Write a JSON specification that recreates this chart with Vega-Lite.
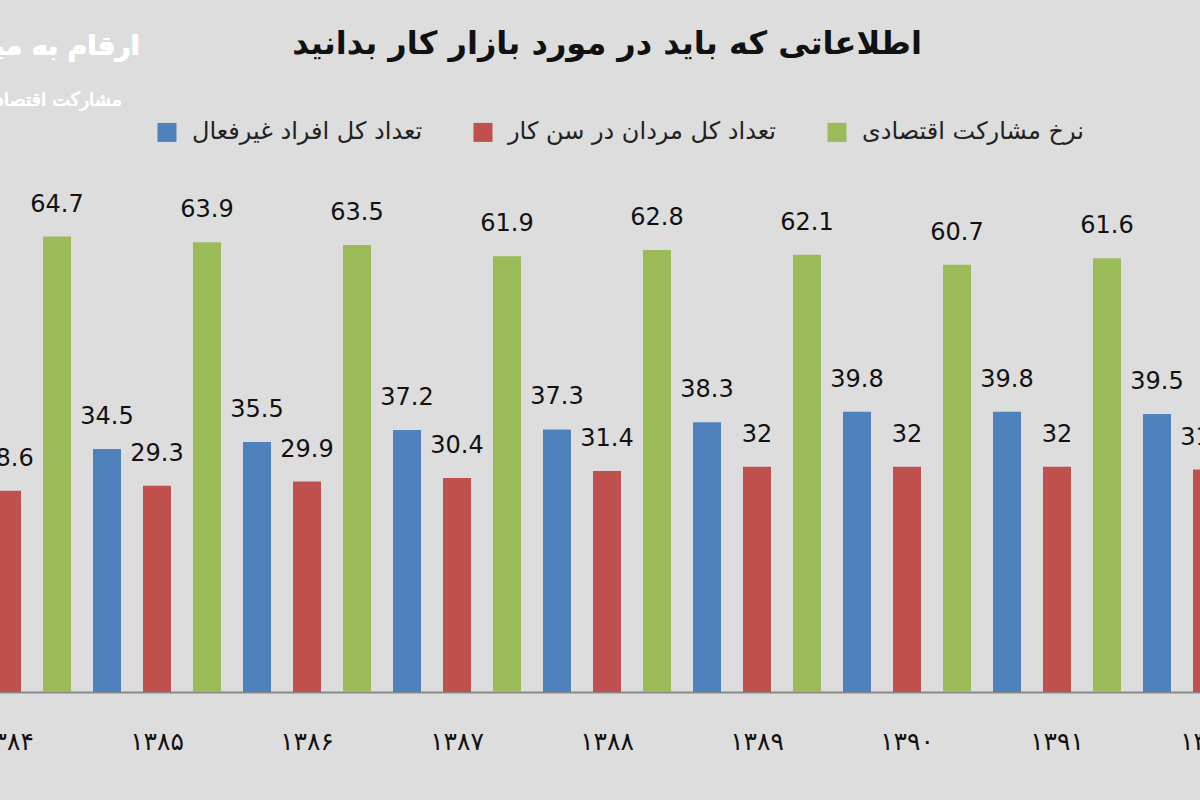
{
  "$schema": "https://vega.github.io/schema/vega-lite/v6.json",
  "autosize": "none",
  "width": 1350,
  "height": 633.6,
  "padding": {"left": -68, "right": -82, "top": 58.4, "bottom": 108},
  "background": "#dddddd",
  "config": {"view": {"stroke": null}, "font": "DejaVu Sans"},
  "title": {
    "text": "اطلاعاتی که باید در مورد بازار کار بدانید",
    "fontSize": 32,
    "fontWeight": "bold",
    "color": "#111111",
    "anchor": "middle",
    "frame": "group",
    "offset": -28
  },
  "data": {
    "values": [
      {"year": "۱۳۸۴", "series": "تعداد کل مردان در سن کار", "value": 28.6},
      {"year": "۱۳۸۴", "series": "نرخ مشارکت اقتصادی", "value": 64.7},
      {"year": "۱۳۸۵", "series": "تعداد کل افراد غیرفعال", "value": 34.5},
      {"year": "۱۳۸۵", "series": "تعداد کل مردان در سن کار", "value": 29.3},
      {"year": "۱۳۸۵", "series": "نرخ مشارکت اقتصادی", "value": 63.9},
      {"year": "۱۳۸۶", "series": "تعداد کل افراد غیرفعال", "value": 35.5},
      {"year": "۱۳۸۶", "series": "تعداد کل مردان در سن کار", "value": 29.9},
      {"year": "۱۳۸۶", "series": "نرخ مشارکت اقتصادی", "value": 63.5},
      {"year": "۱۳۸۷", "series": "تعداد کل افراد غیرفعال", "value": 37.2},
      {"year": "۱۳۸۷", "series": "تعداد کل مردان در سن کار", "value": 30.4},
      {"year": "۱۳۸۷", "series": "نرخ مشارکت اقتصادی", "value": 61.9},
      {"year": "۱۳۸۸", "series": "تعداد کل افراد غیرفعال", "value": 37.3},
      {"year": "۱۳۸۸", "series": "تعداد کل مردان در سن کار", "value": 31.4},
      {"year": "۱۳۸۸", "series": "نرخ مشارکت اقتصادی", "value": 62.8},
      {"year": "۱۳۸۹", "series": "تعداد کل افراد غیرفعال", "value": 38.3},
      {"year": "۱۳۸۹", "series": "تعداد کل مردان در سن کار", "value": 32},
      {"year": "۱۳۸۹", "series": "نرخ مشارکت اقتصادی", "value": 62.1},
      {"year": "۱۳۹۰", "series": "تعداد کل افراد غیرفعال", "value": 39.8},
      {"year": "۱۳۹۰", "series": "تعداد کل مردان در سن کار", "value": 32},
      {"year": "۱۳۹۰", "series": "نرخ مشارکت اقتصادی", "value": 60.7},
      {"year": "۱۳۹۱", "series": "تعداد کل افراد غیرفعال", "value": 39.8},
      {"year": "۱۳۹۱", "series": "تعداد کل مردان در سن کار", "value": 32},
      {"year": "۱۳۹۱", "series": "نرخ مشارکت اقتصادی", "value": 61.6},
      {"year": "۱۳۹۲", "series": "تعداد کل افراد غیرفعال", "value": 39.5},
      {"year": "۱۳۹۲", "series": "تعداد کل مردان در سن کار", "value": 31.6}
    ]
  },
  "encoding": {
    "x": {
      "field": "year",
      "type": "nominal",
      "scale": {
        "domain": ["۱۳۸۴", "۱۳۸۵", "۱۳۸۶", "۱۳۸۷", "۱۳۸۸", "۱۳۸۹", "۱۳۹۰", "۱۳۹۱", "۱۳۹۲"],
        "paddingInner": 0,
        "paddingOuter": 0
      },
      "axis": {
        "title": null,
        "labelAngle": 0,
        "labelFontSize": 25,
        "labelColor": "#111111",
        "labelPadding": 37,
        "ticks": false,
        "grid": false,
        "domainColor": "#8a8a8a",
        "domainWidth": 2
      }
    },
    "xOffset": {
      "field": "series",
      "type": "nominal",
      "scale": {
        "domain": ["تعداد کل افراد غیرفعال", "تعداد کل مردان در سن کار", "نرخ مشارکت اقتصادی"],
        "paddingInner": 0.44,
        "paddingOuter": 0.22
      }
    },
    "y": {
      "field": "value",
      "type": "quantitative",
      "scale": {"domain": [0, 90]},
      "axis": null
    }
  },
  "layer": [
    {
      "mark": {"type": "bar"},
      "encoding": {
        "color": {
          "field": "series",
          "type": "nominal",
          "scale": {
            "domain": ["تعداد کل افراد غیرفعال", "تعداد کل مردان در سن کار", "نرخ مشارکت اقتصادی"],
            "range": ["#4f81bd", "#c0504d", "#9bbb59"]
          },
          "legend": {
            "orient": "none",
            "legendX": 223,
            "legendY": 62,
            "direction": "horizontal",
            "title": null,
            "symbolType": "square",
            "symbolSize": 361,
            "symbolStrokeWidth": 0,
            "labelFontSize": 24,
            "labelColor": "#222222",
            "labelLimit": 400,
            "labelOffset": 13,
            "columnPadding": 48
          }
        }
      }
    },
    {
      "mark": {"type": "text", "fontSize": 24, "color": "#111111", "baseline": "alphabetic", "dy": -25},
      "encoding": {"text": {"field": "value", "type": "quantitative"}}
    },
    {
      "mark": {"type": "text", "text": "ارقام به میلیون نفر", "fontSize": 27, "fontWeight": "bold", "color": "#ffffff", "align": "right", "baseline": "middle", "dx": 208},
      "encoding": {"x": {"datum": "۱۳۸۴"}, "y": {"datum": 91.6}, "xOffset": {"value": 0}}
    },
    {
      "mark": {"type": "text", "text": "مشارکت اقتصادی به درصد", "fontSize": 19, "color": "#ffffff", "align": "right", "baseline": "middle", "dx": 190},
      "encoding": {"x": {"datum": "۱۳۸۴"}, "y": {"datum": 84.1}, "xOffset": {"value": 0}}
    }
  ]
}
